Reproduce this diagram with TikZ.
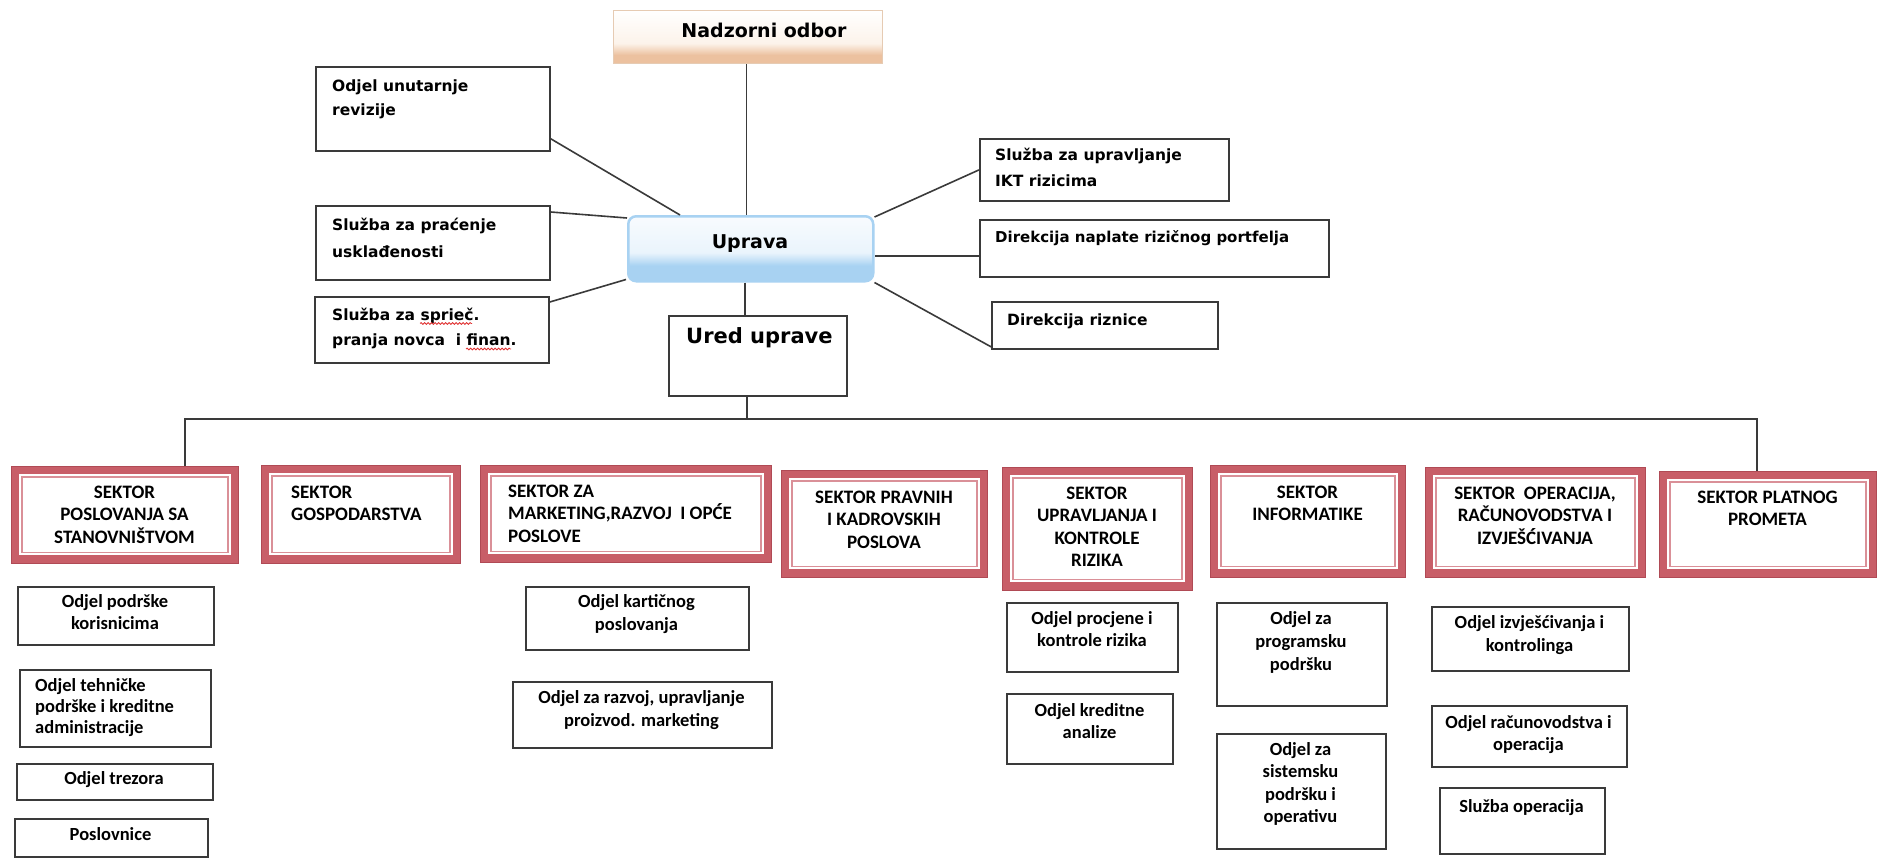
\documentclass[tikz,border=0pt]{standalone}
\usepackage{fontspec}
\setmainfont{Carlito}
\newfontfamily\dvs{DejaVu Sans}
\newfontfamily\crl{Carlito}
\usetikzlibrary{calc,decorations.pathmorphing}

\definecolor{lnc}{HTML}{3A3A3A}
\definecolor{secred}{HTML}{C85E68}
\definecolor{secdark}{HTML}{B04A55}
\definecolor{secpink}{HTML}{DA9098}
\definecolor{nadpeach}{HTML}{ECC19F}
\definecolor{nadlight}{HTML}{FCF3EA}
\definecolor{nadedge}{HTML}{E6CBB3}
\definecolor{uprblue}{HTML}{A8D2F2}
\definecolor{uprpale}{HTML}{EAF4FC}
\definecolor{uprtop}{HTML}{F8FBFE}
\definecolor{spellred}{HTML}{E03030}

\pgfdeclareverticalshading{nadsh}{100bp}{color(0bp)=(nadpeach); color(25bp)=(nadpeach); color(33bp)=(nadpeach); color(44bp)=(nadlight); color(75bp)=(white); color(100bp)=(white)}
\pgfdeclareverticalshading{uprsh}{100bp}{color(0bp)=(uprblue); color(25bp)=(uprblue); color(37bp)=(uprblue); color(47bp)=(uprpale); color(75bp)=(uprtop); color(100bp)=(uprtop)}

\newcommand\strA{\rule{0pt}{17pt}}
\newcommand\strB{\rule{0pt}{16pt}}
\newcommand\strC{\rule{0pt}{15pt}}
\newcommand\bx[6][box]{\node[#1, minimum width={#5-#3}, minimum height={#6-#4}] (#2) at (#3,#4) {};}

\tikzset{
  box/.style={draw=lnc, line width=1.8pt, fill=white, inner sep=0pt, anchor=north west},
  nadbox/.style={draw=nadedge, line width=1pt, shading=nadsh, inner sep=0pt, anchor=north west},
  uprbox/.style={draw=uprblue, line width=2.5pt, rounded corners=8pt, shading=uprsh, inner sep=0pt, anchor=north west},
  sector/.style={fill=secred, draw=secdark, line width=0.8pt, inner sep=0pt, anchor=north west,
    path picture={
      \fill[white] ([shift={(7.5pt,-7.5pt)}]path picture bounding box.north west) rectangle ([shift={(-7.5pt,8pt)}]path picture bounding box.south east);
      \draw[secpink, line width=1.8pt] ([shift={(10.5pt,-10.5pt)}]path picture bounding box.north west) rectangle ([shift={(-10.5pt,11pt)}]path picture bounding box.south east);
    }},
  ln/.style={draw=lnc, line width=1.6pt},
  ttl/.style={font=\dvs\bfseries\fontsize{19}{23}\selectfont, inner sep=0pt, anchor=base},
  topT/.style={font=\dvs\bfseries\fontsize{15.5}{#1}\selectfont, align=left, inner sep=0pt, anchor=north west},
  topT/.default=25,
  secT/.style={font=\crl\bfseries\fontsize{19}{22.5}\selectfont, align=center, inner sep=0pt, anchor=north},
  secTL/.style={font=\crl\bfseries\fontsize{19}{22.5}\selectfont, align=left, inner sep=0pt, anchor=north west},
  lowT/.style={font=\crl\bfseries\fontsize{18.5}{#1}\selectfont, align=center, inner sep=0pt, anchor=north},
  lowT/.default=22.5,
  lowTL/.style={font=\crl\bfseries\fontsize{18.5}{#1}\selectfont, align=left, inner sep=0pt, anchor=north west},
  lowTL/.default=21,
  lowB/.style={font=\crl\bfseries\fontsize{18.5}{22.5}\selectfont, inner sep=0pt, anchor=base},
  wavy/.style={draw=spellred, line width=0.8pt, decorate, decoration={snake, amplitude=0.9pt, segment length=3.5pt}}
}

\begin{document}
\begin{tikzpicture}[x=1pt,y=-1pt]
\useasboundingbox[fill=white] (0,0) rectangle (1877,857);

% ---------- top level ----------
\bx[nadbox]{nad}{613}{10}{882}{63}
\node[ttl] (tnad) at (764,37) {Nadzorni odbor};

\bx[uprbox]{upr}{627}{215}{872}{280}
\node[ttl] (tupr) at (750,248) {Uprava};

\bx{urd}{668}{315}{846}{395}
\node[ttl, anchor=base west, font=\dvs\bfseries\fontsize{21}{25}\selectfont] (turd) at (686,343) {Ured uprave};

% left staff boxes
\bx{rev}{315}{66}{549}{150}
\node[topT=24] (trev) at (332,76) {\strC Odjel unutarnje\\revizije};
\bx{usk}{315}{205}{549}{279}
\node[topT=27] (tusk) at (332,215) {\strC Služba za praćenje\\usklađenosti};
\bx{spr}{314}{296}{548}{362}
\node[topT=25.5] (tspr) at (332,305) {\strC Služba za sprieč.\\pranja novca~ i finan.};

% right staff boxes
\bx{ikt}{979}{138}{1228}{200}
\node[topT=26] (tikt) at (995,145) {\strC Služba za upravljanje\\IKT rizicima};
\bx{nap}{979}{219}{1328}{276}
\node[topT, font=\dvs\bfseries\fontsize{15}{25}\selectfont] (tnap) at (995,227) {\strC Direkcija naplate rizičnog portfelja};
\bx{riz}{991}{301}{1217}{348}
\node[topT] (triz) at (1007,310) {\strC Direkcija riznice};

% spell-check marks
\draw[wavy] (420,323.5) -- (472,323.5);
\draw[wavy] (466,349) -- (511,349);

% ---------- sectors ----------
\bx[sector]{s1}{11}{466}{238}{563}
\bx[sector]{s2}{261}{465}{460}{563}
\bx[sector]{s3}{480}{465}{771}{562}
\bx[sector]{s4}{781}{470}{987}{577}
\bx[sector]{s5}{1002}{467}{1192}{590}
\bx[sector]{s6}{1210}{465}{1405}{577}
\bx[sector]{s7}{1425}{467}{1645}{577}
\bx[sector]{s8}{1659}{471}{1876}{577}

\node[secT] (ts1) at (124.5,481) {\strA SEKTOR\\POSLOVANJA SA\\STANOVNIŠTVOM};
\node[secTL] (ts2) at (291,481) {\strA SEKTOR\\GOSPODARSTVA};
\node[secTL] (ts3) at (508,480) {\strA SEKTOR ZA\\MARKETING,RAZVOJ~ I OPĆE\\POSLOVE};
\node[secT] (ts4) at (884,486) {\strA SEKTOR PRAVNIH\\I KADROVSKIH\\POSLOVA};
\node[secT] (ts5) at (1097,482) {\strA SEKTOR\\UPRAVLJANJA I\\KONTROLE\\RIZIKA};
\node[secT] (ts6) at (1307.5,481) {\strA SEKTOR\\INFORMATIKE};
\node[secT] (ts7) at (1535,482) {\strA SEKTOR~ OPERACIJA,\\RAČUNOVODSTVA I\\IZVJEŠĆIVANJA};
\node[secT] (ts8) at (1767.5,486) {\strA SEKTOR PLATNOG\\PROMETA};

% ---------- departments ----------
\bx{kor}{17}{586}{213}{644}
\node[lowT] (tkor) at (115,591) {\strB Odjel podrške\\korisnicima};
\bx{teh}{19}{669}{210}{746}
\node[lowTL] (tteh) at (35,675) {\strB Odjel tehničke\\podrške i kreditne\\administracije};
\bx{trz}{16}{763}{212}{799}
\node[lowB] (ttrz) at (114,784) {Odjel trezora};
\bx{pos}{14}{818}{207}{856}
\node[lowB] (tpos) at (110.5,840) {Poslovnice};

\bx{kar}{525}{586}{748}{649}
\node[lowT=23] (tkar) at (636.5,591) {\strB Odjel kartičnog\\poslovanja};
\bx{raz}{512}{681}{771}{747}
\node[lowT=23] (traz) at (641.5,687) {\strB Odjel za razvoj, upravljanje\\proizvod. marketing};

\bx{pro}{1006}{602}{1177}{671}
\node[lowT] (tpro) at (1092,608) {\strB Odjel procjene i\\kontrole rizika};
\bx{kre}{1006}{693}{1172}{763}
\node[lowT] (tkre) at (1089.5,700) {\strB Odjel kreditne\\analize};

\bx{prg}{1216}{602}{1386}{705}
\node[lowT=23] (tprg) at (1301,608) {\strB Odjel za\\programsku\\podršku};
\bx{sis}{1216}{733}{1385}{848}
\node[lowT] (tsis) at (1300.5,739) {\strB Odjel za\\sistemsku\\podršku i\\operativu};

\bx{izv}{1431}{606}{1628}{670}
\node[lowT=23] (tizv) at (1529.5,612) {\strB Odjel izvješćivanja i\\kontrolinga};
\bx{rac}{1431}{705}{1626}{766}
\node[lowT=22] (trac) at (1528.5,712) {\strB Odjel računovodstva i\\operacija};
\bx{slo}{1439}{787}{1604}{853}
\node[lowB] (tslo) at (1521.5,812) {Služba operacija};

% ---------- connectors ----------
\coordinate (busL) at (185,419);
\coordinate (busR) at (1757,419);
\coordinate (nadB) at ($(nad.south)+(-1.5pt,0)$);
\coordinate (uprB) at ($(upr.south)+(-6pt,0)$);
\coordinate (urdB) at ($(upr.south |- urd.south)+(-4pt,0)$);
\coordinate (napW) at ($(nap.west)+(0,-7.5pt)$);

\draw[ln] (nadB) -- (nadB |- upr.north);
\draw[ln] (uprB) -- (uprB |- urd.north);
\draw[ln] (urdB) -- (urdB |- busL);
\draw[ln] (s1.north -| busL) |- (busR) -- (busR |- s8.north);

\draw[ln] ($(rev.south east)+(0,13pt)$) -- ($(upr.north west)+(53pt,0)$);
\draw[ln] ($(usk.north east)+(0,-7pt)$) -- ($(upr.north west)+(0,-3pt)$);
\draw[ln] ($(spr.north east)+(0,-6pt)$) -- ($(upr.south west)+(-1pt,3pt)$);
\draw[ln] ($(upr.north east)+(0,-2pt)$) -- (ikt.west);
\draw[ln] (napW) -- (napW -| upr.east);
\draw[ln] (upr.south east) -- ($(riz.south west)+(0,3pt)$);
\end{tikzpicture}
\end{document}
